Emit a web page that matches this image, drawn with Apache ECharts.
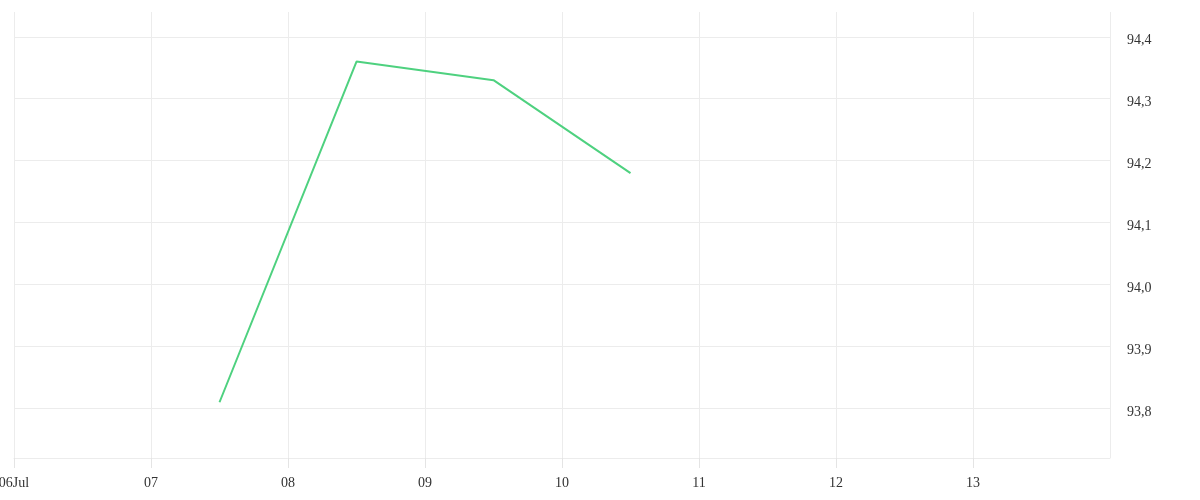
<!DOCTYPE html>
<html>
<head>
<meta charset="utf-8">
<script src="https://cdn.jsdelivr.net/npm/echarts@6/dist/echarts.min.js"></script>
<style>
html,body{margin:0;padding:0;background:#fff;}
#chart{width:1200px;height:500px;}
</style>
</head>
<body>
<div id="chart"></div>
<script>
var times = ['2023-07-07 12:00', '2023-07-08 12:00', '2023-07-09 12:00', '2023-07-10 12:00'];
var values = [93.81, 94.36, 94.33, 94.18];
var xRange = ['2023-07-06 00:00', '2023-07-14 00:00'];
var yRange = [93.72, 94.44];
var monthNames = ['Jan','Feb','Mar','Apr','May','Jun','Jul','Aug','Sep','Oct','Nov','Dec'];

var chart = echarts.init(document.getElementById('chart'));
var font = {fontFamily: 'Liberation Serif', fontSize: 14, color: '#333'};
var gridColor = '#ececec';

chart.setOption({
  animation: false,
  backgroundColor: '#fff',
  grid: {left: 14, right: 90, top: 12, bottom: 42, containLabel: false, outerBoundsMode: 'none'},
  xAxis: {
    type: 'time',
    min: xRange[0],
    max: xRange[1],
    minInterval: 86400000,
    maxInterval: 86400000,
    axisLine: {show: true, lineStyle: {color: gridColor, width: 1}},
    axisTick: {show: true, length: 10, lineStyle: {color: '#e4e4e4', width: 1}},
    splitLine: {show: true, lineStyle: {color: gridColor, width: 1}},
    axisLabel: Object.assign({}, font, {
      margin: 18,
      showMaxLabel: false,
      hideOverlap: false,
      formatter: function (v) {
        var d = new Date(v);
        var dd = ('0' + d.getDate()).slice(-2);
        if (d.getDate() === 6 && d.getMonth() === 6) return dd + monthNames[d.getMonth()];
        return dd;
      }
    })
  },
  yAxis: {
    type: 'value',
    position: 'right',
    min: yRange[0],
    max: yRange[1],
    splitNumber: 7,
    axisLine: {show: false},
    axisTick: {show: false},
    splitLine: {show: true, showMinLine: false, showMaxLine: false, lineStyle: {color: gridColor, width: 1}},
    axisLabel: Object.assign({}, font, {
      margin: 17,
      showMinLabel: false,
      showMaxLabel: false,
      formatter: function (v) { return '{v|' + v.toFixed(1).replace('.', ',') + '}'; },
      rich: {
        v: Object.assign({}, font, {padding: [8, 0, 0, 0]})
      }
    })
  },
  series: [{
    type: 'line',
    data: times.map(function (t, i) { return [t, values[i]]; }),
    symbol: 'none',
    lineStyle: {color: '#4ed17f', width: 2},
    itemStyle: {color: '#4ed17f'}
  }]
});
</script>
</body>
</html>
